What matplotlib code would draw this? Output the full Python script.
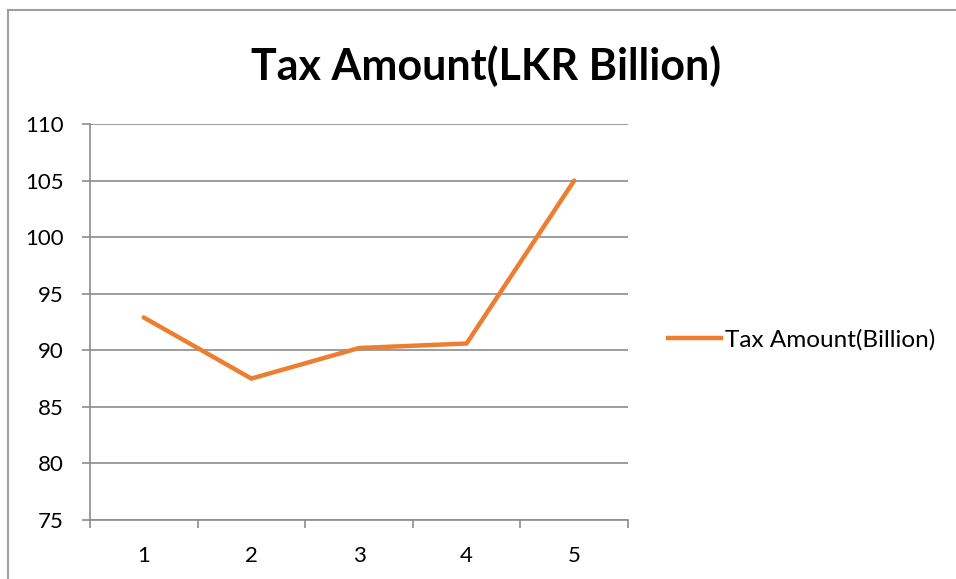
import matplotlib as mpl
mpl.use('AGG')
import matplotlib.pyplot as plt
from matplotlib.lines import Line2D

mpl.rc('font', **{'family': ['Lato', 'DejaVu Sans'], 'size': 16})

# data
periods = [1, 2, 3, 4, 5]
tax_amount = [92.9, 87.5, 90.2, 90.6, 105.0]
y_ticks = [75, 80, 85, 90, 95, 100, 105, 110]
title_text = 'Tax Amount(LKR Billion)'
legend_text = 'Tax Amount(Billion)'

line_color = '#ED7D31'
grid_color = '#8C8C8C'

fig = plt.figure(figsize=(9.56, 5.79), dpi=100)
ax = fig.add_axes([90/956, 59/579, 538/956, 396/579])

ax.plot(periods, tax_amount, color=line_color, linewidth=3.2,
        solid_joinstyle='miter', solid_capstyle='round')

ax.set_xlim(0.5, 5.5)
ax.set_ylim(75, 110)
ax.set_yticks(y_ticks)
ax.yaxis.grid(True, color=grid_color, linewidth=1.2)
ax.set_axisbelow(True)

# category ticks between labels, labels at centres
ax.set_xticks([p + 0.5 for p in [0] + periods])
ax.set_xticklabels([])
ax.set_xticks(periods, minor=True)
ax.set_xticklabels([str(p) for p in periods], minor=True)
ax.tick_params(axis='x', which='minor', length=0, pad=19, labelsize=16)
ax.tick_params(axis='x', which='major', length=6, width=1.2, color=grid_color)
ax.tick_params(axis='y', length=6, width=1.2, color=grid_color, pad=13, labelsize=16)

for s in ['top', 'right']:
    ax.spines[s].set_visible(False)
for s in ['left', 'bottom']:
    ax.spines[s].set_color(grid_color)
    ax.spines[s].set_linewidth(1.2)

fig.text(486/956, 1 - 66/579, title_text, ha='center', va='center',
         fontsize=31, fontweight='bold')

h = Line2D([], [], color=line_color, linewidth=3.2)
fig.legend([h], [legend_text], loc='center left', bbox_to_anchor=(668/956, 1 - 340/579),
           frameon=False, borderpad=0, borderaxespad=0, handlelength=2.2,
           handletextpad=0.15, fontsize=17.5)

# outer chart frame (left and top edges visible)
fig.add_artist(Line2D([8/956, 8/956], [0, 1 - 10/579], transform=fig.transFigure,
                      color='#A0A0A0', linewidth=1.5))
fig.add_artist(Line2D([8/956, 1], [1 - 10/579, 1 - 10/579], transform=fig.transFigure,
                      color='#A0A0A0', linewidth=1.5))

plt.savefig('out.png', dpi=100)
